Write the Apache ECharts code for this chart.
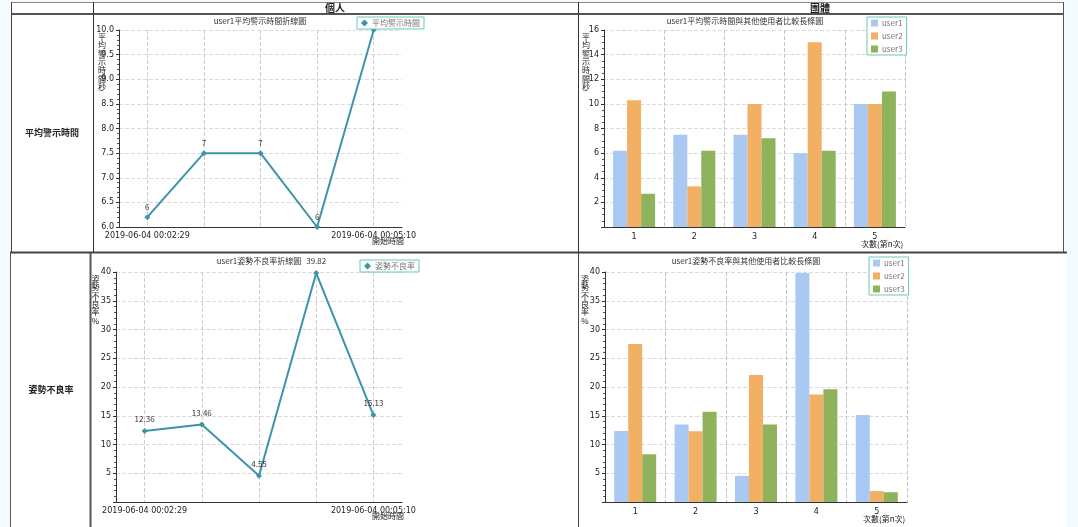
<!DOCTYPE html>
<html>
<head>
<meta charset="utf-8">
<script src="https://cdn.jsdelivr.net/npm/echarts@6/dist/echarts.min.js"></script>
<style>
  html, body { margin: 0; padding: 0; background: #f3fbfe; }
  #main { width: 1078px; height: 527px; }
</style>
</head>
<body>
<div id="main"></div>
<script>
// 個人 - 開始時間 (only first / last shown)
const timeLabels = ["2019-06-04 00:02:29", "", "", "", "2019-06-04 00:05:10"];
// 平均警示時間 (秒)
const avgTime = [6.2, 7.5, 7.5, 6.0, 10.0];
const avgTimeLabels = ["6", "7", "7", "6", "10"];
// 姿勢不良率 (%)
const badRate = [12.36, 13.46, 4.55, 39.82, 15.13];
const badRateLabels = ["12.36", "13.46", "4.55", "39.82", "15.13"];

// 團體 - 次數
const rounds = ["1", "2", "3", "4", "5"];
const users = ["user1", "user2", "user3"];
const groupAvgTime = [
  [6.2, 7.5, 7.5, 6.0, 10.0],
  [10.3, 3.3, 10.0, 15.0, 10.0],
  [2.7, 6.2, 7.2, 6.2, 11.0]
];
const groupBadRate = [
  [12.36, 13.46, 4.55, 39.82, 15.13],
  [27.5, 12.3, 22.1, 18.7, 1.9],
  [8.3, 15.7, 13.5, 19.6, 1.7]
];

const lineColor = "#3d94a9";
const barColors = ["#a9c9f2", "#f1b063", "#8eb35c"];
const legendBorder = "#69c9b4";
const cjk = "Noto Sans CJK TC";
const axisColor = "#333";

const myChart = echarts.init(document.getElementById("main"));

// stacked (one char per line) y axis name, placed inside the plot top
function yName(text, gap, shift) {
  return {
    name: text.split("").join("\n"),
    nameLocation: "end",
    nameGap: gap,
    nameMoveOverlap: false,
    nameTextStyle: {
      fontSize: 8, color: "#222", fontFamily: cjk, lineHeight: 8.3,
      verticalAlign: "top",
      padding: [0, shift, 0, 0]
    }
  };
}

function xName(text, gap, top) {
  return {
    name: text,
    nameLocation: "end",
    nameGap: gap,
    nameMoveOverlap: false,
    nameTextStyle: {
      fontSize: 8, color: "#222", fontFamily: cjk,
      verticalAlign: "top", padding: [top, 0, 0, 0]
    }
  };
}

function lineX(gridIndex) {
  return Object.assign({
    type: "category",
    gridIndex: gridIndex,
    data: timeLabels,
    boundaryGap: true,
    axisLine: { lineStyle: { color: axisColor } },
    axisTick: { alignWithLabel: true, length: 3, lineStyle: { color: axisColor } },
    axisLabel: { interval: 0, fontSize: 8, color: "#222", margin: 5, fontFamily: "DejaVu Sans" },
    splitLine: { show: true, alignWithLabel: true, lineStyle: { type: "dashed", color: "#cfcfcf" } }
  }, xName("開始時間", -30, 10));
}

function barX(gridIndex) {
  return Object.assign({
    type: "category",
    gridIndex: gridIndex,
    data: rounds,
    axisLine: { lineStyle: { color: axisColor } },
    axisTick: { length: 3, lineStyle: { color: axisColor } },
    axisLabel: { fontSize: 8, color: "#222", margin: 6, fontFamily: "DejaVu Sans" },
    splitLine: { show: true, lineStyle: { type: "dashed", color: "#c4c4c4" } }
  }, xName("次數(第n次)", -44, 13));
}

function valY(gridIndex, min, max, interval, minorSplit, showMin, fmt, nameOpt) {
  return Object.assign({
    type: "value",
    gridIndex: gridIndex,
    min: min, max: max, interval: interval,
    axisLine: { show: true, lineStyle: { color: axisColor } },
    axisTick: { show: true, length: 3, lineStyle: { color: axisColor } },
    minorTick: { show: true, splitNumber: minorSplit, length: 2, lineStyle: { color: "#555" } },
    axisLabel: { fontSize: 8, color: "#222", margin: 5, showMinLabel: showMin, formatter: fmt, fontFamily: "DejaVu Sans" },
    splitLine: { show: true, lineStyle: { type: "dashed", color: "#dcdcdc" } }
  }, nameOpt);
}

const titleStyle = { fontSize: 8, fontWeight: "normal", color: "#333", fontFamily: cjk };

const legendBase = {
  backgroundColor: "#fff",
  borderColor: legendBorder,
  borderWidth: 1,
  borderRadius: 0,
  padding: [2, 4],
  itemWidth: 7,
  itemHeight: 7,
  itemGap: 5,
  textStyle: { fontSize: 8, color: "#777", fontFamily: cjk, padding: [0, 0, 0, -1] }
};

const barSeries = [];
users.forEach((u, i) => {
  barSeries.push({
    name: u, type: "bar", xAxisIndex: 1, yAxisIndex: 1,
    data: groupAvgTime[i], barWidth: 14, barGap: "0%",
    itemStyle: { color: barColors[i] }
  });
});
users.forEach((u, i) => {
  barSeries.push({
    name: u, type: "bar", xAxisIndex: 3, yAxisIndex: 3,
    data: groupBadRate[i], barWidth: 14, barGap: "0%",
    itemStyle: { color: barColors[i] }
  });
});

// table frame
const line = (x1, y1, x2, y2, w, c) => ({
  type: "line", z: -5, silent: true,
  shape: { x1: x1, y1: y1, x2: x2, y2: y2 },
  style: { stroke: c || "#444", lineWidth: w || 1 }
});

const graphic = [
  { type: "rect", z: -10, silent: true, shape: { x: 11, y: 2, width: 1052, height: 250 }, style: { fill: "#fff" } },
  { type: "rect", z: -10, silent: true, shape: { x: 10, y: 252, width: 1057, height: 275 }, style: { fill: "#fff" } },
  line(11, 2.5, 1063, 2.5, 1, "#888"),
  line(11, 14, 1063, 14, 2, "#555"),
  line(11.5, 2, 11.5, 252, 1, "#444"),
  line(93.5, 2, 93.5, 252, 1, "#333"),
  line(578.5, 2, 578.5, 252, 1, "#333"),
  line(1063.5, 2, 1063.5, 252, 1, "#555"),
  line(10, 252.5, 1067, 252.5, 2, "#444"),
  line(10.5, 253, 10.5, 527, 1, "#555"),
  line(90.5, 253, 90.5, 527, 2, "#555"),
  line(578.5, 253, 578.5, 527, 1, "#444"),
  { type: "text", z: 5, silent: true, style: { x: 335, y: 8, text: "個人", fontSize: 10, fontWeight: "bold", fill: "#222", fontFamily: cjk, align: "center", verticalAlign: "middle" } },
  { type: "text", z: 5, silent: true, style: { x: 820, y: 8, text: "團體", fontSize: 10, fontWeight: "bold", fill: "#222", fontFamily: cjk, align: "center", verticalAlign: "middle" } },
  { type: "text", z: 5, silent: true, style: { x: 52, y: 133, text: "平均警示時間", fontSize: 9, fontWeight: "bold", fill: "#222", fontFamily: cjk, align: "center", verticalAlign: "middle" } },
  { type: "text", z: 5, silent: true, style: { x: 51, y: 390, text: "姿勢不良率", fontSize: 9, fontWeight: "bold", fill: "#222", fontFamily: cjk, align: "center", verticalAlign: "middle" } }
];

myChart.setOption({
  backgroundColor: "#f3fbfe",
  animation: false,
  textStyle: { fontFamily: cjk },
  graphic: graphic,
  title: [
    { text: "user1平均警示時間折線圖", left: 260, top: 17, textAlign: "center", textStyle: titleStyle, padding: 0 },
    { text: "user1平均警示時間與其他使用者比較長條圖", left: 745, top: 17, textAlign: "center", textStyle: titleStyle, padding: 0 },
    { text: "user1姿勢不良率折線圖", left: 259, top: 257, textAlign: "center", textStyle: titleStyle, padding: 0 },
    { text: "user1姿勢不良率與其他使用者比較長條圖", left: 746, top: 257, textAlign: "center", textStyle: titleStyle, padding: 0 }
  ],
  legend: [
    Object.assign({}, legendBase, { data: ["平均警示時間"], icon: "diamond", left: 357, top: 17 }),
    Object.assign({}, legendBase, { data: users, icon: "rect", orient: "vertical", left: 867, top: 17, itemGap: 5 }),
    Object.assign({}, legendBase, { data: ["姿勢不良率"], icon: "diamond", left: 360, top: 260 }),
    Object.assign({}, legendBase, { data: users, icon: "rect", orient: "vertical", left: 869, top: 257, itemGap: 5 })
  ],
  grid: [
    { left: 119, top: 30, width: 283, height: 197, outerBoundsMode: "none" },
    { left: 604, top: 30, width: 301, height: 197, outerBoundsMode: "none" },
    { left: 116, top: 272, width: 286, height: 230, outerBoundsMode: "none" },
    { left: 605, top: 272, width: 302, height: 230, outerBoundsMode: "none" }
  ],
  xAxis: [lineX(0), barX(1), lineX(2), barX(3)],
  yAxis: [
    valY(0, 6, 10, 0.5, 5, true, v => v.toFixed(1), yName("平均警示時間秒", -3, 34)),
    valY(1, 0, 16, 2, 4, false, "{value}", yName("平均警示時間秒", -3, 36)),
    valY(2, 0, 40, 5, 5, false, "{value}", yName("姿勢不良率%", -3, 41)),
    valY(3, 0, 40, 5, 5, false, "{value}", yName("姿勢不良率%", -3, 40))
  ],
  series: [
    {
      name: "平均警示時間", type: "line", xAxisIndex: 0, yAxisIndex: 0,
      data: avgTime, symbol: "diamond", symbolSize: 6,
      lineStyle: { width: 2, color: lineColor }, itemStyle: { color: lineColor },
      label: { show: true, position: "top", distance: 3, fontSize: 8, color: "#333",
        formatter: p => avgTimeLabels[p.dataIndex] }
    },
    {
      name: "姿勢不良率", type: "line", xAxisIndex: 2, yAxisIndex: 2,
      data: badRate, symbol: "diamond", symbolSize: 6,
      lineStyle: { width: 2, color: lineColor }, itemStyle: { color: lineColor },
      label: { show: true, position: "top", distance: 5, fontSize: 8, color: "#333",
        formatter: p => badRateLabels[p.dataIndex] }
    }
  ].concat(barSeries)
});
</script>
</body>
</html>
